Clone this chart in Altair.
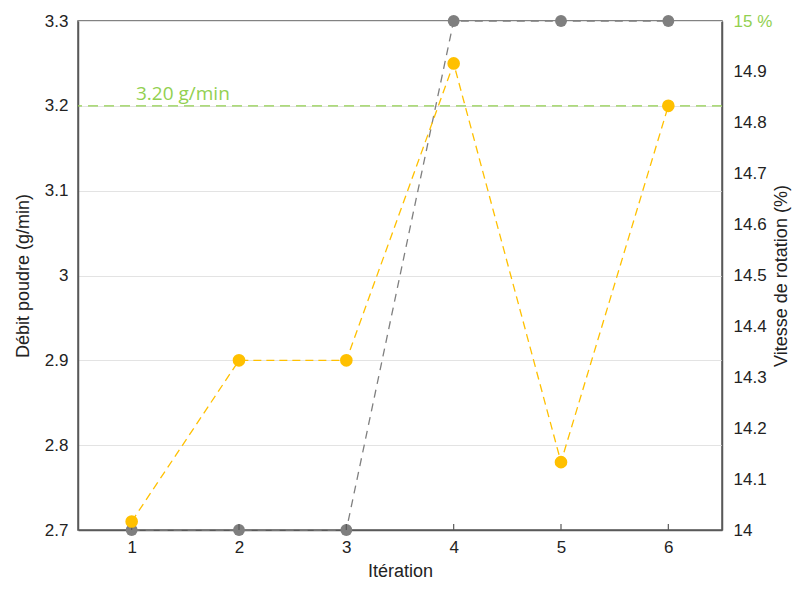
import altair as alt
import pandas as pd

iterations = [1, 2, 3, 4, 5, 6]
debit = [2.71, 2.90, 2.90, 3.25, 2.78, 3.20]
vitesse = [14, 14, 14, 15, 15, 15]
target_value = 3.20
target_label = "3.20 g/min"

df = pd.DataFrame({"Itération": iterations, "debit": debit, "vitesse": vitesse})

FONT = "Liberation Sans"
YELLOW = "#FFC000"
GRAY = "#7F7F7F"
GREEN = "#92D050"
AXC = "#595959"
TXT = "#222222"

common = dict(labelFont=FONT, titleFont=FONT, labelFontSize=17, titleFontSize=18,
              labelColor=TXT, titleColor=TXT, titleFontWeight="normal",
              domainColor=AXC, domainWidth=1.5, tickSize=0)

xscale = alt.Scale(domain=[0.5, 6.5], nice=False, zero=False)
xaxis = alt.Axis(values=iterations, format="d", labelPadding=9,
                 title="Itération", titlePadding=7, grid=False, **common)
x = alt.X("Itération:Q", scale=xscale, axis=xaxis)

yl_scale = alt.Scale(domain=[2.7, 3.3], nice=False, zero=False)
yl_axis = alt.Axis(orient="left", values=[2.7, 2.8, 2.9, 3.0, 3.1, 3.2, 3.3], format=".1~f",
                   labelPadding=10, title="Débit poudre (g/min)", titlePadding=12,
                   grid=True, gridColor="#E3E3E3", **common)

c2 = dict(common)
c2.pop("labelColor")
yr_scale = alt.Scale(domain=[14, 15], nice=False, zero=False)
yr_axis = alt.Axis(orient="right",
                   values=[14, 14.1, 14.2, 14.3, 14.4, 14.5, 14.6, 14.7, 14.8, 14.9, 15],
                   format=".1~f", labelExpr="datum.value == 15 ? '15 %' : datum.label",
                   labelColor=alt.condition("datum.value == 15", alt.value(GREEN), alt.value(TXT)),
                   labelPadding=11, title="Vitesse de rotation (%)", titleAngle=270,
                   titlePadding=19, grid=False, **c2)

base = alt.Chart(df)

gray_line = base.mark_line(color=GRAY, strokeDash=[8, 6], strokeWidth=1.3, clip=False).encode(
    x=x, y=alt.Y("vitesse:Q", scale=yr_scale, axis=yr_axis))
gray_pts = base.mark_circle(color=GRAY, size=140, opacity=1, clip=False).encode(
    x=x, y=alt.Y("vitesse:Q", scale=yr_scale, axis=yr_axis))
right = alt.layer(gray_line, gray_pts)

rule = alt.Chart(pd.DataFrame({"v": [target_value]})).mark_rule(
    color=GREEN, strokeDash=[10, 6], strokeWidth=1.3).encode(
    y=alt.Y("v:Q", scale=yl_scale, axis=yl_axis))
label = alt.Chart(pd.DataFrame({"v": [target_value], "t": [target_label], "x": [1.04]})).mark_text(
    color=GREEN, font="Open Sans", fontSize=19, align="left", baseline="alphabetic", dy=-6).encode(
    x=alt.X("x:Q", scale=xscale, axis=xaxis), y=alt.Y("v:Q", scale=yl_scale, axis=yl_axis), text="t:N")
ticks = base.mark_rule(color=AXC, strokeWidth=1.2).encode(
    x=x, y=alt.value(509), y2=alt.value(503))
yel_line = base.mark_line(color=YELLOW, strokeDash=[8, 5], strokeWidth=1.3, clip=False).encode(
    x=x, y=alt.Y("debit:Q", scale=yl_scale, axis=yl_axis))
yel_pts = base.mark_circle(color=YELLOW, size=160, opacity=1, clip=False).encode(
    x=x, y=alt.Y("debit:Q", scale=yl_scale, axis=yl_axis))
left = alt.layer(rule, label, ticks, yel_line, yel_pts)

chart = alt.layer(right, left).resolve_scale(y="independent").properties(
    width=644, height=509,
    autosize=alt.AutoSizeParams(type="none"),
    padding={"left": 70, "top": 13, "right": 72, "bottom": 53},
    background="white",
).configure_view(stroke=AXC, strokeWidth=1.5)

chart.save("out.html", embed_options={"renderer": "svg", "actions": False})
